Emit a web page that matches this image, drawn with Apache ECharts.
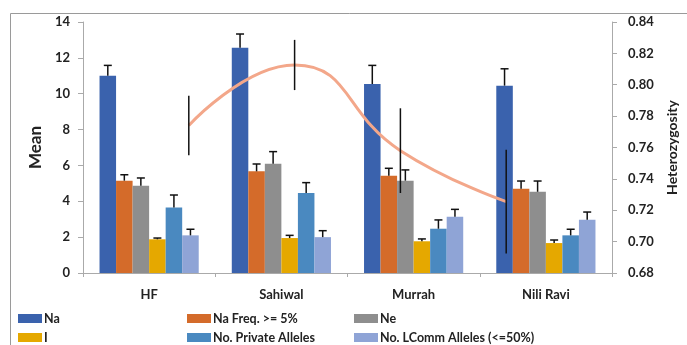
<!DOCTYPE html>
<html><head><meta charset="utf-8">
<script src="https://cdn.jsdelivr.net/npm/echarts@6/dist/echarts.min.js"></script>
<style>html,body{margin:0;padding:0;background:#fff}#c{width:687px;height:345px}</style>
</head><body><div id="c"></div>
<script>
var categories = ['HF', 'Sahiwal', 'Murrah', 'Nili Ravi'];
var seriesNames = ['Na', 'Na Freq. >= 5%', 'Ne', 'I', 'No. Private Alleles', 'No. LComm Alleles (<=50%)'];
var na      = [11.0, 12.57, 10.54, 10.45];
var naFreq  = [5.15, 5.67, 5.43, 4.70];
var ne      = [4.87, 6.10, 5.15, 4.53];
var iVals   = [1.88, 1.95, 1.77, 1.67];
var priv    = [3.66, 4.46, 2.47, 2.10];
var lcomm   = [2.10, 2.00, 3.14, 2.97];
var naErr     = [0.58, 0.76, 1.04, 0.94];
var naFreqErr = [0.33, 0.41, 0.41, 0.43];
var neErr     = [0.43, 0.67, 0.60, 0.60];
var iErr      = [0.07, 0.15, 0.13, 0.17];
var privErr   = [0.69, 0.58, 0.49, 0.34];
var lcommErr  = [0.34, 0.36, 0.41, 0.43];
var het    = [0.774, 0.8126, 0.758, 0.7255];
var hetErr = [0.019, 0.016, 0.027, 0.033];
var hetPos = [1, 2, 3, 4];
var leftTicks = {min: 0, max: 14, interval: 2};
var rightTicks = {min: 0.68, max: 0.84, interval: 0.02};

var colors = ['#3A62AD', '#D46B2A', '#8E8E8E', '#E5A800', '#4A89C0', '#8FA4D6'];
var values = [na, naFreq, ne, iVals, priv, lcomm];
var errs = [naErr, naFreqErr, neErr, iErr, privErr, lcommErr];
var FONT = 'Lato';
var gap = 0.25;

var series = [];
values.forEach(function (v, k) {
  series.push({
    name: seriesNames[k], type: 'bar', data: v, xAxisIndex: 0, yAxisIndex: 0,
    barGap: '0%', barCategoryGap: (gap * 100) + '%',
    itemStyle: {color: colors[k]}, z: 2
  });
});
values.forEach(function (v, k) {
  series.push({
    type: 'custom', xAxisIndex: 0, yAxisIndex: 0, z: 3, silent: true,
    data: v.map(function (val, j) { return [j, val, val + errs[k][j]]; }),
    renderItem: function (params, api) {
      var band = api.size([1, 0])[0];
      var bw = band * (1 - gap) / 6;
      var p0 = api.coord([api.value(0), api.value(1)]);
      var p1 = api.coord([api.value(0), api.value(2)]);
      var x = p0[0] + (k - 2.5) * bw;
      var st = {stroke: '#111', lineWidth: 1.5};
      return {type: 'group', children: [
        {type: 'line', shape: {x1: x, y1: p0[1], x2: x, y2: p1[1]}, style: st},
        {type: 'line', shape: {x1: x - 4, y1: p1[1], x2: x + 4, y2: p1[1]}, style: st}
      ]};
    }
  });
});
series.push({
  type: 'line', xAxisIndex: 1, yAxisIndex: 1, smooth: 0.5, showSymbol: false, symbol: 'none',
  data: hetPos.map(function (p, j) { return [p, het[j]]; }),
  lineStyle: {color: '#F3A78A', width: 3}, z: 4
});
series.push({
  type: 'custom', xAxisIndex: 1, yAxisIndex: 1, z: 5, silent: true,
  data: hetPos.map(function (p, j) { return [p, het[j] - hetErr[j], het[j] + hetErr[j]]; }),
  renderItem: function (params, api) {
    var a = api.coord([api.value(0), api.value(1)]);
    var b = api.coord([api.value(0), api.value(2)]);
    return {type: 'line', shape: {x1: a[0], y1: a[1], x2: b[0], y2: b[1]}, style: {stroke: '#111', lineWidth: 1.5}};
  }
});

function legend(name, left, top) {
  return {
    data: [name], left: left, top: top, padding: 0,
    itemWidth: 24, itemHeight: 9, icon: 'rect',
    textStyle: {fontFamily: FONT, fontWeight: 'bold', fontSize: 12.5, color: '#222', padding: [0, 0, 0, -3]}
  };
}
var legendLeft = [18, 187, 354];
var legendTop = [312, 331];
var legends = seriesNames.map(function (n, k) {
  return legend(n, legendLeft[k % 3], legendTop[Math.floor(k / 3)]);
});

var chart = echarts.init(document.getElementById('c'));
chart.setOption({
  animation: false,
  color: colors,
  graphic: [{type: 'polyline', shape: {points: [[10.5, 400], [10.5, 13.5], [700, 13.5]]}, style: {stroke: '#9a9a9a', lineWidth: 1, fill: null}}],
  legend: legends,
  grid: {left: 83, right: 73, top: 22, bottom: 72},
  xAxis: [{
    type: 'category', data: categories,
    axisLine: {lineStyle: {color: '#AAAAAA'}},
    axisTick: {show: true, length: 4, lineStyle: {color: '#AAAAAA'}},
    axisLabel: {fontFamily: FONT, fontWeight: 'bold', fontSize: 13, color: '#222', margin: 15}
  }, {
    type: 'value', min: 0, max: 5, show: false
  }],
  yAxis: [{
    type: 'value', min: leftTicks.min, max: leftTicks.max, interval: leftTicks.interval,
    name: 'Mean', nameLocation: 'middle', nameGap: 38, nameRotate: 90,
    nameTextStyle: {fontFamily: FONT, fontWeight: 'bold', fontSize: 17, color: '#222'},
    axisLine: {show: true, lineStyle: {color: '#AAAAAA'}},
    axisTick: {show: true, length: 5, lineStyle: {color: '#AAAAAA'}},
    splitLine: {show: false},
    axisLabel: {fontFamily: FONT, fontWeight: 'bold', fontSize: 13, color: '#222', margin: 13}
  }, {
    type: 'value', position: 'right', min: rightTicks.min, max: rightTicks.max, interval: rightTicks.interval,
    name: 'Heterozygosity', nameLocation: 'middle', nameGap: 53, nameRotate: 90,
    nameTextStyle: {fontFamily: FONT, fontWeight: 'bold', fontSize: 14, color: '#222'},
    axisLine: {show: true, lineStyle: {color: '#AAAAAA'}},
    axisTick: {show: true, length: 5, lineStyle: {color: '#AAAAAA'}},
    splitLine: {show: false},
    axisLabel: {fontFamily: FONT, fontWeight: 'bold', fontSize: 13, color: '#222', margin: 16,
      formatter: function (v) { return v.toFixed(2); }}
  }],
  series: series
});
</script></body></html>
